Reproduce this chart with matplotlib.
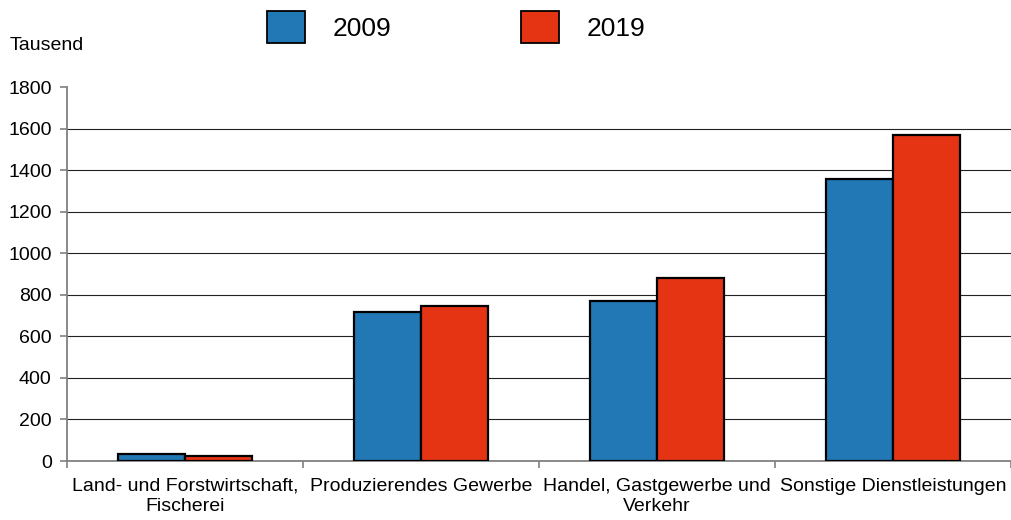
import matplotlib
matplotlib.use("Agg")
import matplotlib.pyplot as plt
import numpy as np
from matplotlib.ticker import FixedLocator, NullFormatter

plt.rcParams['font.family'] = ['Liberation Sans', 'DejaVu Sans']

categories = ["Land- und Forstwirtschaft,\nFischerei", "Produzierendes Gewerbe",
              "Handel, Gastgewerbe und\nVerkehr", "Sonstige Dienstleistungen"]
series_names = ["2009", "2019"]
values_2009 = [36, 717, 771, 1357]
values_2019 = [26, 746, 880, 1567]
yticks = [0, 200, 400, 600, 800, 1000, 1200, 1400, 1600, 1800]
unit_label = "Tausend"

colors = ["#2178b5", "#e53414"]

fig = plt.figure(figsize=(10.11, 5.2), dpi=100)
ax = fig.add_axes([67/1011, 1 - 461/520, (1011-67)/1011, (461-87)/520])

x = np.arange(len(categories))
w = 0.285
ax.bar(x - w/2, values_2009, w, color=colors[0], edgecolor='black', linewidth=1.6,
       label=series_names[0], zorder=3)
ax.bar(x + w/2, values_2019, w, color=colors[1], edgecolor='black', linewidth=1.6,
       label=series_names[1], zorder=3)

ax.set_xlim(-0.5, len(categories) - 0.5)
ax.set_ylim(0, 1800)
ax.set_yticks(yticks)
ax.set_yticklabels([str(v) for v in yticks], fontsize=14)
for v in yticks[1:-1]:
    ax.axhline(v, color='#222222', linewidth=0.8, zorder=1)

ax.set_xticks(x)
ax.set_xticklabels(categories, fontsize=14, linespacing=1.25)
ax.tick_params(axis='x', which='major', length=0, pad=12)
ax.xaxis.set_minor_locator(FixedLocator(np.arange(-0.5, len(categories), 1.0)))
ax.xaxis.set_minor_formatter(NullFormatter())
ax.tick_params(axis='x', which='minor', length=5, color='#808080', width=1.2)
ax.tick_params(axis='y', length=5, color='#808080', width=1.2, pad=6)

for s in ['top', 'right']:
    ax.spines[s].set_visible(False)
for s in ['left', 'bottom']:
    ax.spines[s].set_color('#808080')
    ax.spines[s].set_linewidth(1.3)

fig.text(10/1011, 1 - 45/520, unit_label, fontsize=14, va='center', ha='left')

leg = fig.legend(loc='center', bbox_to_anchor=(456/1011, 1 - 27/520), ncol=2,
                 frameon=False, fontsize=19, handlelength=1.45, handleheight=1.45,
                 handletextpad=1.05, columnspacing=4.9)
for p in leg.get_patches():
    p.set_linewidth(1.3)

fig.savefig("out.png", dpi=100)
